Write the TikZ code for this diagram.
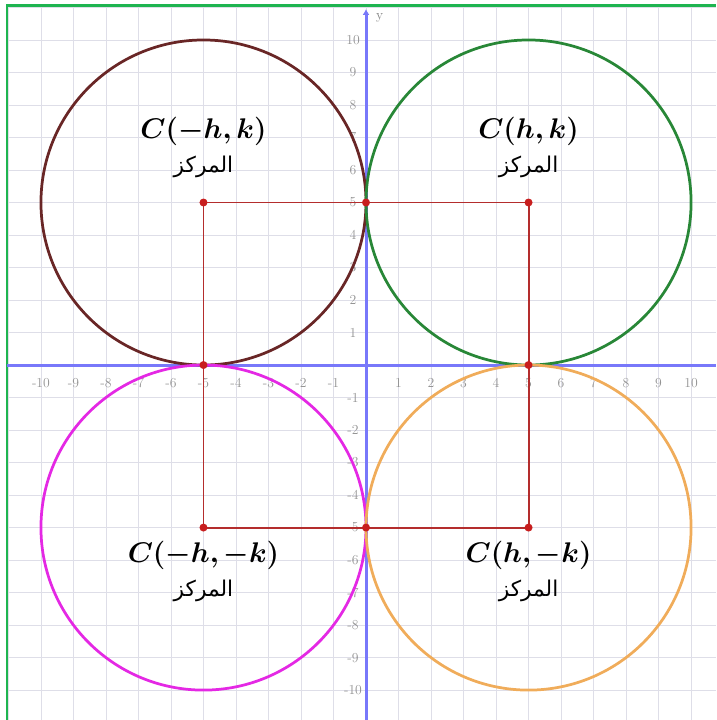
\documentclass[tikz,border=0pt]{standalone}
\usepackage{amsmath, amssymb}
\usepackage{bm}
\usepackage{fontspec}
\newfontfamily\arabicfont[Script=Arabic]{DejaVu Sans}
\TeXXeTstate=1
\usetikzlibrary{calc, arrows.meta}

\definecolor{axisblue}{RGB}{120,120,250}
\definecolor{gridgray}{RGB}{222,222,232}
\definecolor{framegreen}{RGB}{30,180,80}
\definecolor{cbrown}{RGB}{105,38,38}
\definecolor{cgreen}{RGB}{40,135,55}
\definecolor{cmagenta}{RGB}{228,40,228}
\definecolor{corange}{RGB}{240,172,90}
\definecolor{sqred}{RGB}{180,45,45}
\definecolor{dotred}{RGB}{200,30,30}

\begin{document}
\begin{tikzpicture}[x=1cm, y=1cm,
  circ/.style={line width=2.4pt},
  side/.style={sqred, line width=1.7pt},
  dotpt/.style={circle, fill=dotred, inner sep=0pt, minimum size=7pt},
  tick/.style={text=gray!85, font=\fontsize{12}{14}\selectfont, inner sep=0pt},
  centre/.style={font=\fontsize{23}{27}\selectfont, inner sep=0pt},
  word/.style={font=\arabicfont\fontsize{19}{22}\selectfont, inner sep=0pt}]
\useasboundingbox (-11.26,-10.92) rectangle (10.77,11.23);

% grid
\draw[gridgray, line width=0.7pt] (-11,-10.92) grid (10.77,11.06);

% frame (top and left)
\draw[framegreen, line width=1.8pt] (-11.04,-10.92) -- (-11.04,11.06) -- (10.77,11.06);

% axes
\draw[axisblue, line width=2.6pt] (-11.04,0) -- (10.77,0);
\draw[axisblue, line width=2.6pt, -{Latex[length=5pt,width=6pt]}] (0,-10.92) -- (0,10.95);
\node[tick, text=gray] (ylab) at (0.42,10.68) {y};

% labels on the axes
\foreach \i in {-10,...,-1,1,2,...,10} {
  \node[tick] (xt\i) at (\i,-0.55) {\i};
  \node[tick] (yt\i) at (-0.4,\i) {\i};
}

% circles
\draw[circ, cbrown] (-5,5) circle (5);
\draw[circ, cgreen] (5,5) circle (5);
\draw[circ, cmagenta] (-5,-5) circle (5);
\draw[circ, corange] (5,-5) circle (5);

% square and its points
\coordinate (tl) at (-5,5);
\coordinate (tr) at (5,5);
\coordinate (br) at (5,-5);
\coordinate (bl) at (-5,-5);
\draw[side] (tl) -- (tr) -- (br) -- (bl) -- cycle;
\foreach \p/\q in {tl/{-5,5}, tm/{0,5}, tr/{5,5}, ml/{-5,0}, mr/{5,0}, bl/{-5,-5}, bm/{0,-5}, br/{5,-5}}
  \node[dotpt] (d\p) at (\q) {};

% centres
\node[centre] (ctl) at (-5,7.2) {$\bm{C(-h,k)}$};
\node[word] (wtl) at (-5,6.1) {\beginR المركز\endR};
\node[centre] (ctr) at (5,7.2) {$\bm{C(h,k)}$};
\node[word] (wtr) at (5,6.1) {\beginR المركز\endR};
\node[centre] (cbl) at (-5,-5.85) {$\bm{C(-h,-k)}$};
\node[word] (wbl) at (-5,-6.95) {\beginR المركز\endR};
\node[centre] (cbr) at (5,-5.85) {$\bm{C(h,-k)}$};
\node[word] (wbr) at (5,-6.95) {\beginR المركز\endR};

\end{tikzpicture}
\end{document}
